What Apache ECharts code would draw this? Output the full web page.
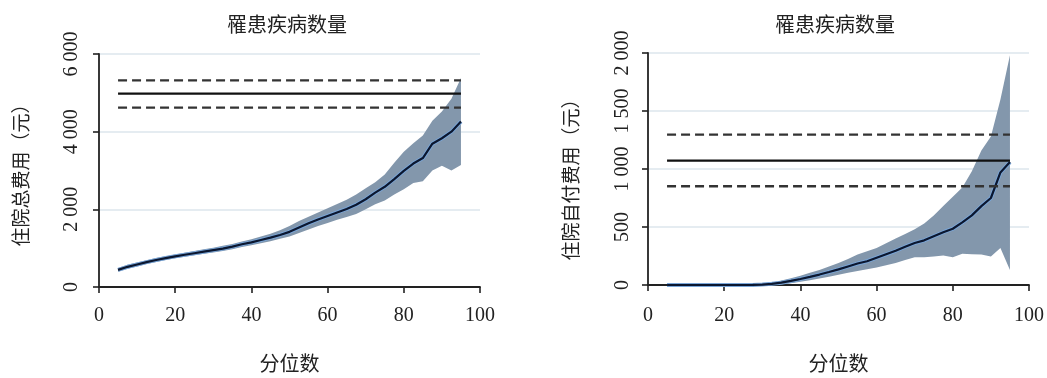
<!DOCTYPE html>
<html>
<head>
<meta charset="utf-8">
<script src="https://cdn.jsdelivr.net/npm/echarts@6/dist/echarts.min.js"></script>
<style>
  html, body { margin: 0; padding: 0; background: #fff; }
  #chart { width: 1047px; height: 378px; }
</style>
</head>
<body>
<div id="chart"></div>
<script>
// 分位点
const pctl = [5, 7.5, 10, 12.5, 15, 17.5, 20, 22.5, 25, 27.5, 30, 32.5, 35, 37.5, 40, 42.5, 45, 47.5,
  50, 52.5, 55, 57.5, 60, 62.5, 65, 67.5, 70, 72.5, 75, 77.5, 80, 82.5, 85, 87.5, 90, 92.5, 95];

// 住院总费用：估计值与置信区间
const totalMid = [440, 520, 580, 640, 695, 745, 790, 830, 870, 910, 950, 990, 1040, 1100, 1150, 1210, 1270, 1340,
  1420, 1530, 1640, 1740, 1830, 1920, 2010, 2120, 2260, 2430, 2580, 2780, 2990, 3180, 3320, 3690, 3830, 4000, 4260];
const totalHigh = [490, 570, 630, 690, 745, 795, 840, 885, 925, 970, 1010, 1060, 1110, 1170, 1230, 1300, 1370, 1460,
  1570, 1700, 1810, 1920, 2030, 2140, 2250, 2380, 2540, 2700, 2900, 3200, 3480, 3700, 3900, 4280, 4520, 4850, 5380];
const totalLow = [390, 470, 530, 590, 645, 695, 740, 780, 820, 855, 890, 925, 970, 1030, 1075, 1125, 1180, 1240,
  1300, 1390, 1480, 1570, 1650, 1730, 1800, 1880, 2000, 2130, 2230, 2380, 2520, 2680, 2720, 3000, 3120, 3000, 3140];
// 均值及其置信区间（下限、均值、上限）
const totalRef = [4620, 4980, 5320];

// 住院自付费用
const oopMid = [0, 0, 0, 0, 0, 0, 0, 0, 0, 1, 4, 10, 20, 35, 52, 70, 90, 112,
  135, 160, 185, 205, 235, 265, 295, 330, 362, 385, 420, 455, 485, 540, 600, 680, 750, 970, 1060];
const oopHigh = [2, 2, 2, 2, 2, 2, 2, 2, 2, 5, 12, 22, 38, 58, 80, 105, 130, 160,
  190, 225, 262, 290, 320, 360, 400, 440, 480, 530, 600, 680, 760, 840, 980, 1160, 1280, 1600, 1980];
const oopLow = [0, 0, 0, 0, 0, 0, 0, 0, 0, 0, 0, 2, 6, 15, 28, 40, 55, 72,
  88, 105, 120, 135, 150, 170, 190, 215, 240, 240, 245, 255, 240, 270, 265, 262, 245, 320, 130];
const oopRef = [851, 1072, 1296];

// 刻度
const xTickVals = [0, 20, 40, 60, 80, 100];
const xTickLabels = ['0', '20', '40', '60', '80', '100'];
const totalTickVals = [0, 2000, 4000, 6000];
const totalTickLabels = ['0', '2 000', '4 000', '6 000'];
const oopTickVals = [0, 500, 1000, 1500, 2000];
const oopTickLabels = ['0', '500', '1 000', '1 500', '2 000'];

const titles = ['罹患疾病数量', '罹患疾病数量'];
const yNames = ['住院总费用（元）', '住院自付费用（元）'];
const xName = '分位数';

const serif = '"Liberation Serif", "DejaVu Serif", serif';
const cjk = '"Noto Sans CJK SC", sans-serif';
const bandColor = '#8397ac';
const ink = '#222';

function tickFormatter(vals, labels) {
  return function (v) {
    const i = vals.indexOf(v);
    return i >= 0 ? labels[i] : '';
  };
}

function makeX(idx, off) {
  return {
    gridIndex: idx, type: 'value', min: 0, max: 100, interval: 20, offset: off,
    name: xName, nameLocation: 'middle', nameGap: 62,
    nameTextStyle: { fontFamily: cjk, fontSize: 20, color: ink },
    axisLine: { show: true, lineStyle: { color: ink, width: 1.8 } },
    axisTick: { show: true, length: 6, lineStyle: { color: ink, width: 1.6 } },
    axisLabel: { margin: 15, fontFamily: serif, fontSize: 20, color: ink,
      formatter: tickFormatter(xTickVals, xTickLabels) },
    splitLine: { show: false }
  };
}

function makeY(idx, max, interval, vals, labels, off, margin, gap, pad) {
  return {
    gridIndex: idx, type: 'value', min: 0, max: max, interval: interval, offset: off,
    name: yNames[idx], nameLocation: 'middle', nameGap: gap, nameRotate: 90,
    nameTextStyle: { fontFamily: cjk, fontSize: 19, color: ink, padding: pad },
    axisLine: { show: true, lineStyle: { color: ink, width: 1.8 } },
    axisTick: { show: true, length: 6, lineStyle: { color: ink, width: 1.6 } },
    axisLabel: { rotate: 90, margin: margin, fontFamily: serif, fontSize: 20, color: ink,
      formatter: tickFormatter(vals, labels) },
    splitLine: { show: true, lineStyle: { color: '#dde6ed', width: 1.5 } }
  };
}

function bandSeries(idx, low, high) {
  return {
    type: 'custom', xAxisIndex: idx, yAxisIndex: idx, silent: true, z: 1,
    data: pctl.map((p, i) => [p, low[i], high[i]]),
    encode: { x: 0, y: [1, 2] },
    renderItem: function (params, api) {
      if (params.dataIndex !== 0) return null;
      const pts = [];
      for (let i = 0; i < pctl.length; i++) pts.push(api.coord([pctl[i], high[i]]));
      for (let i = pctl.length - 1; i >= 0; i--) pts.push(api.coord([pctl[i], low[i]]));
      return { type: 'polygon', shape: { points: pts }, style: { fill: bandColor } };
    }
  };
}

function midSeries(idx, mid) {
  const data = pctl.map((p, i) => [p, mid[i]]);
  return [
    { type: 'line', xAxisIndex: idx, yAxisIndex: idx, data: data, symbol: 'none', z: 3,
      lineStyle: { color: '#7aa6d8', width: 4 } },
    { type: 'line', xAxisIndex: idx, yAxisIndex: idx, data: data, symbol: 'none', z: 4,
      lineStyle: { color: '#0b1730', width: 2.2 } }
  ];
}

function refSeries(idx, ref) {
  return ref.map((v, k) => ({
    type: 'line', xAxisIndex: idx, yAxisIndex: idx, symbol: 'none', z: 5,
    data: [[pctl[0], v], [pctl[pctl.length - 1], v]],
    lineStyle: { color: k === 1 ? '#111' : '#333', width: 2.4, type: k === 1 ? 'solid' : [9, 5] }
  }));
}

const chart = echarts.init(document.getElementById('chart'));
chart.setOption({
  animation: false,
  backgroundColor: '#fff',
  title: [
    { text: titles[0], left: 282, top: 9, textAlign: 'center',
      textStyle: { fontFamily: cjk, fontSize: 20, fontWeight: 'normal', color: ink } },
    { text: titles[1], left: 830, top: 9, textAlign: 'center',
      textStyle: { fontFamily: cjk, fontSize: 20, fontWeight: 'normal', color: ink } }
  ],
  grid: [
    { left: 99, right: 567, top: 54, bottom: 88 },
    { left: 648, right: 17, top: 53, bottom: 90 }
  ],
  xAxis: [makeX(0, 4), makeX(1, 6)],
  yAxis: [
    makeY(0, 6000, 2000, totalTickVals, totalTickLabels, 3, 14, 66, 0),
    makeY(1, 2000, 500, oopTickVals, oopTickLabels, 4, 11, 64, [0, 12, 0, 0])
  ],
  series: [].concat(
    [bandSeries(0, totalLow, totalHigh)],
    midSeries(0, totalMid),
    refSeries(0, totalRef),
    [bandSeries(1, oopLow, oopHigh)],
    midSeries(1, oopMid),
    refSeries(1, oopRef)
  )
});
</script>
</body>
</html>
